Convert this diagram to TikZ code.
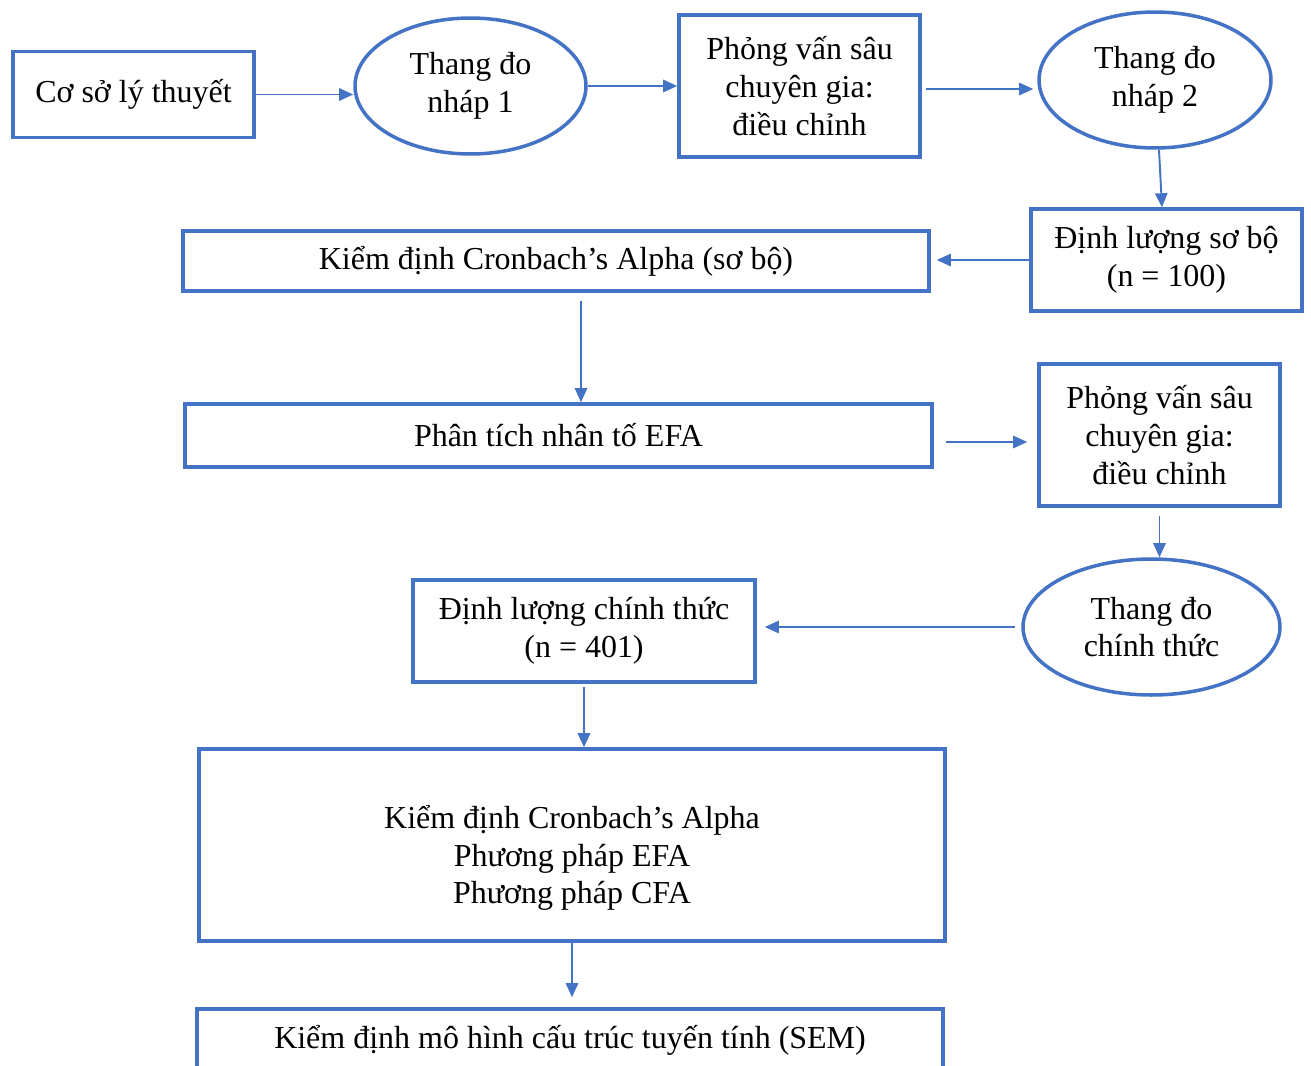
\documentclass[tikz,border=0pt]{standalone}
\usepackage{fontspec}
\setmainfont{Liberation Serif}
\usepackage{tikz}
\usetikzlibrary{arrows.meta, positioning, shapes.geometric}
\definecolor{wordblue}{HTML}{4472C4}

\begin{document}
\begin{tikzpicture}[
x=0.02cm, y=-0.02cm,
font=\fontsize{18.2}{21.5}\selectfont,
box/.style={rectangle, draw=wordblue, line width=2pt, align=center, inner sep=0pt},
oval/.style={ellipse, draw=wordblue, line width=2pt, align=center, inner sep=0pt},
arrow/.style={draw=wordblue, line width=1.1pt, -{Triangle[length=8pt, width=7pt]}}
]
\useasboundingbox (0,0) rectangle (1311,1065);
\clip (0,0) rectangle (1311,1065);

\node[box, minimum width=4.82cm, minimum height=1.72cm] (theory) at (133.5,94.5) {Cơ sở lý thuyết};
\node[oval, minimum width=4.62cm, minimum height=2.72cm] (draft1) at (470.5,86) {Thang đo\\nháp 1};
\node[box, minimum width=4.82cm, minimum height=2.84cm] (expert1) at (799.5,86) {Phỏng vấn sâu\\chuyên gia:\\điều chỉnh};
\node[oval, minimum width=4.64cm, minimum height=2.72cm] (draft2) at (1155,80) {Thang đo\\nháp 2};
\node[box, minimum width=5.42cm, minimum height=2.04cm] (pilot) at (1166.5,260) {Định lượng sơ bộ\\(n = 100)};
\node[box, minimum width=14.92cm, minimum height=1.2cm] (alpha1) at (556,261) {Kiểm định Cronbach’s Alpha (sơ bộ)};
\node[box, minimum width=14.94cm, minimum height=1.26cm] (efa) at (558.5,435.5) {Phân tích nhân tố EFA};
\node[box, minimum width=4.82cm, minimum height=2.84cm] (expert2) at (1159.5,435) {Phỏng vấn sâu\\chuyên gia:\\điều chỉnh};
\node[oval, minimum width=5.14cm, minimum height=2.72cm] (final) at (1151.5,627) {Thang đo\\chính thức};
\node[box, minimum width=6.84cm, minimum height=2.04cm] (main) at (584,631) {Định lượng chính thức\\(n = 401)};
\node[box, minimum width=14.92cm, minimum height=3.84cm] (tests) at (572,845) {\rule{0pt}{28pt}Kiểm định Cronbach’s Alpha\\Phương pháp EFA\\Phương pháp CFA};
\node[box, minimum width=14.92cm, minimum height=1.24cm] (sem) at (570,1040) {Kiểm định mô hình cấu trúc tuyến tính (SEM)};

\draw[arrow] (theory.east) -- (theory.east -| draft1.west);
\draw[arrow] (draft1.east) -- (draft1.east -| expert1.west);
\draw[arrow, shorten <=0.8mm, shorten >=0.8mm] ([yshift=-0.6mm]expert1.east) -- ([yshift=-0.6mm]expert1.east -| draft2.west);
\draw[arrow] ([xshift=0.8mm]draft2.south) -- ([xshift=-0.9mm]pilot.north);
\draw[arrow, shorten >=1.2mm] (pilot.west) -- (pilot.west -| alpha1.east);
\draw[arrow, shorten <=1.6mm] ([xshift=5mm]alpha1.south) -- ([xshift=5mm]alpha1.south |- efa.north);
\draw[arrow, shorten <=2.4mm, shorten >=2mm] ([yshift=-1.3mm]efa.east) -- ([yshift=-1.3mm]efa.east -| expert2.west);
\draw[arrow, shorten <=1.6mm] (expert2.south) -- (expert2.south |- final.north);
\draw[arrow, shorten <=1.2mm, shorten >=1.6mm] (final.west) -- (final.west -| main.east);
\draw[arrow, shorten <=0.6mm] (main.south) -- (main.south |- tests.north);
\draw[arrow, shorten >=2mm] (tests.south) -- (tests.south |- sem.north);

\end{tikzpicture}
\end{document}
